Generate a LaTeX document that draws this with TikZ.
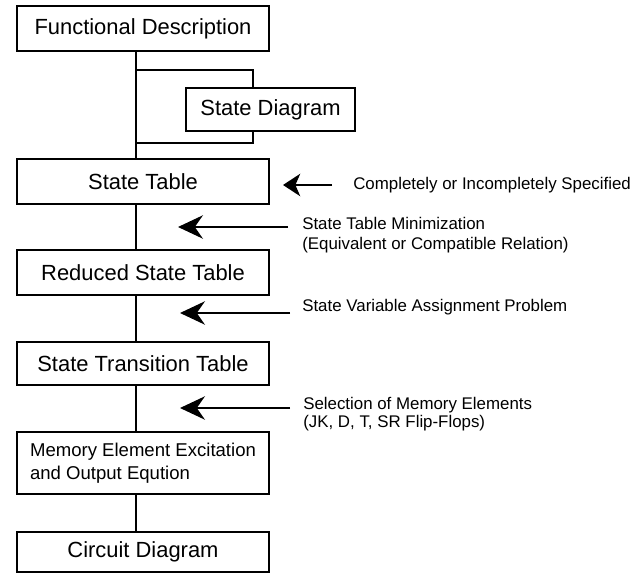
\documentclass[tikz,border=0pt]{standalone}
\usepackage{fontspec}
\setmainfont{Liberation Sans}
\usetikzlibrary{arrows.meta,calc}

\begin{document}
\begin{tikzpicture}[
    stage/.style={draw,line width=1pt,minimum width=6.3cm,minimum height=1.125cm,
      inner sep=0pt,font=\fontsize{15.6}{18}\selectfont},
    link/.style={line width=1.3pt},
    feed/.style={line width=2.1pt,-{Stealth[length=0.62cm,width=0.58cm,inset=0.2cm]}},
    note/.style={anchor=west,inner sep=0pt,align=left,font=\fontsize{12}{14}\selectfont}
  ]
  \useasboundingbox (0,0) rectangle (16.075,-14.35);

  %% ---- design steps ----
  \node[stage] (func) at (3.575,-0.71) {Functional Description};
  \node[stage,minimum width=4.225cm,minimum height=1.075cm] (sdiag) at (6.7625,-2.7375) {State Diagram};
  \node[stage] (stab) at (3.575,-4.54) {State Table};
  \node[stage] (rtab) at (3.575,-6.81) {Reduced State Table};
  \node[stage,minimum height=1.075cm] (ttab) at (3.575,-9.09) {State Transition Table};
  \node[stage,minimum height=1.55cm,align=left,font=\fontsize{13.2}{16.3}\selectfont]
    (excite) at (3.575,-11.575) {Memory Element Excitation\\and Output Eqution};
  \node[stage,minimum height=1.0cm] (circ) at (3.575,-13.8) {Circuit Diagram};

  %% ---- spine ----
  \coordinate (spine) at (3.4,0);
  \draw[link] (func.south -| spine) -- (stab.north -| spine);
  \draw[link] (stab.south -| spine) -- (rtab.north -| spine);
  \draw[link] (rtab.south -| spine) -- (ttab.north -| spine);
  \draw[link] (ttab.south -| spine) -- (excite.north -| spine);
  \draw[link] (excite.south -| spine) -- (circ.north -| spine);

  %% ---- side branch to state diagram ----
  \coordinate (brtop) at (3.4,-1.75);
  \coordinate (brbot) at (3.4,-3.575);
  \coordinate (brx) at (6.325,0);
  \draw[line width=1pt] (brtop) -| (sdiag.north -| brx);
  \draw[line width=1pt] (brbot) -| (sdiag.south -| brx);

  %% ---- notes ----
  \node[note] (spec) at (8.825,-4.625) {Completely or Incompletely Specified};
  \coordinate (spectip) at (7.075,-4.625);
  \draw[feed,line width=1.4pt,shorten <=0.525cm,
    -{Stealth[length=0.43cm,width=0.56cm,inset=0.12cm]}] (spec.west) -- (spectip);

  \node[note] (minim) at (7.55,-5.875) {State Table Minimization\\(Equivalent or Compatible Relation)};
  \coordinate (minimtip) at (4.45,-5.675);
  \draw[feed,shorten <=0.35cm] (minim.west |- minimtip) -- (minimtip);

  \node[note] (assign) at (7.55,-7.675) {State Variable Assignment Problem};
  \coordinate (assigntip) at (4.5,-7.825);
  \draw[feed,shorten <=0.3cm] (assign.west |- assigntip) -- (assigntip);

  \node[note,font=\fontsize{12}{12.8}\selectfont] (memsel) at (7.575,-10.35)
    {Selection of Memory Elements\\(JK, D, T, SR Flip-Flops)};
  \coordinate (memseltip) at (4.5,-10.2);
  \draw[feed,shorten <=0.325cm] (memsel.west |- memseltip) -- (memseltip);
\end{tikzpicture}
\end{document}
